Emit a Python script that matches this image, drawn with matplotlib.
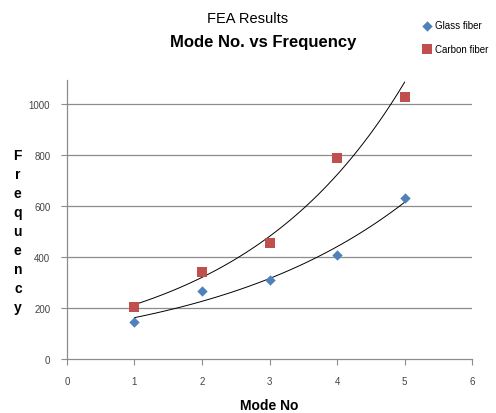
import numpy as np
import matplotlib
matplotlib.use("Agg")
import matplotlib.pyplot as plt

plt.rcParams["font.family"] = ["Liberation Sans", "DejaVu Sans"]

mode_no = [1, 2, 3, 4, 5]
glass_freq = [147, 268, 311, 408, 630]
carbon_freq = [205, 340, 456, 790, 1029]

BLUE = "#4F81BD"
RED = "#C0504D"
GRID = "#8c8c8c"


def exp_trend(xs, ys):
    # excel style exponential trendline: fit ln(y) linearly
    b, a = np.polyfit(xs, np.log(ys), 1)
    xx = np.linspace(min(xs), max(xs), 100)
    return xx, np.exp(a + b * xx)


fig = plt.figure(figsize=(4.96, 4.14), dpi=100)
ax = fig.add_axes([0.135, 0.1304, 0.817, 0.6736])

ax.set_xlim(0, 6)
ax.set_ylim(0, 1094)
ax.set_xticks(range(0, 7))
ax.set_yticks(range(0, 1001, 200))

for yv in range(200, 1001, 200):
    ax.axhline(yv, color=GRID, lw=0.9, zorder=0)

for xs, ys in [(mode_no, glass_freq), (mode_no, carbon_freq)]:
    tx, ty = exp_trend(xs, ys)
    ax.plot(tx, ty, color="black", lw=0.7, zorder=2)

ax.scatter(mode_no, glass_freq, marker="D", s=28, color=BLUE, zorder=3,
           label="Glass fiber", linewidths=0)
ax.scatter(mode_no, carbon_freq, marker="s", s=50, color=RED, zorder=3,
           label="Carbon fiber", linewidths=0)

for side in ["top", "right"]:
    ax.spines[side].set_visible(False)
for side in ["left", "bottom"]:
    ax.spines[side].set_color(GRID)
    ax.spines[side].set_linewidth(0.9)
ax.tick_params(colors=GRID, labelcolor="#444444", labelsize=7, length=4,
               width=0.8, pad=8)

ax.set_xlabel("Mode No", fontsize=10, fontweight="bold", labelpad=9)
fig.text(0.036, 0.44, "\n".join("Frequency"), fontsize=10, fontweight="bold",
         ha="center", va="center", linespacing=1.45)

fig.text(0.5, 0.955, "FEA Results", fontsize=10.5, ha="center", va="center")
fig.text(0.53, 0.898, "Mode No. vs Frequency", fontsize=12,
         fontweight="bold", ha="center", va="center")

fig.legend(loc="upper left", bbox_to_anchor=(0.84, 0.96), frameon=False,
           fontsize=7, handletextpad=0.2, labelspacing=1.4, borderpad=0,
           handlelength=1.2)

fig.savefig("out.png", dpi=100)
